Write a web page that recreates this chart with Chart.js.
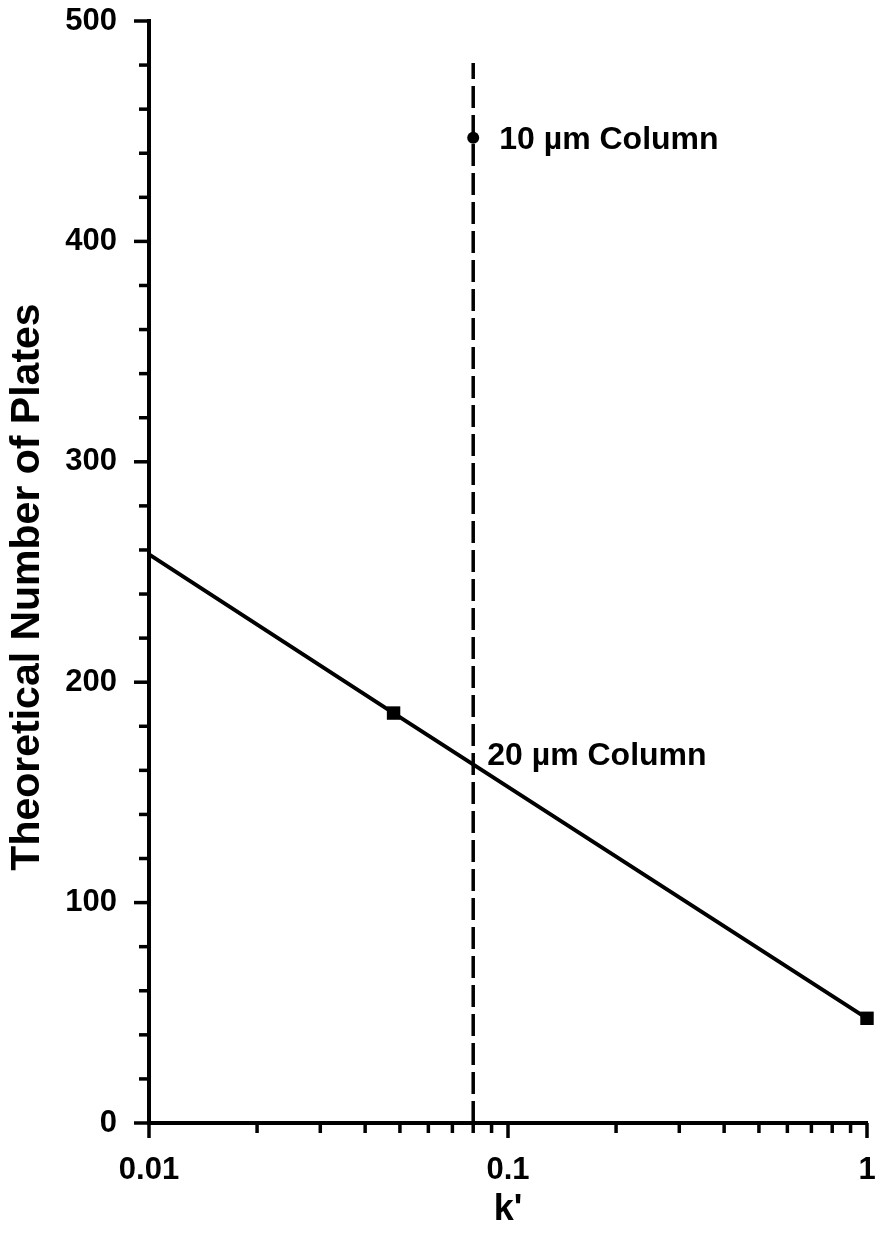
<!DOCTYPE html>
<html><head><meta charset="utf-8">
<script src="https://cdn.jsdelivr.net/npm/chart.js@4/dist/chart.umd.min.js"></script>
<style>html,body{margin:0;padding:0;background:#fff}#wrap{width:883px;height:1238px}</style>
</head><body><div id="wrap"><canvas id="c" width="883" height="1238"></canvas></div>
<script>
// ---- data ----
const kValues = [0.01, 0.048, 1];
const plates20 = [258, 186, 47.5];
const cutoffK = [0.08, 0.08];
const cutoffPlates = [0, 481];
const point10K = [0.08];
const point10Plates = [447];
const labelTexts = ['10 µm Column', '20 µm Column'];
const labelK = [0.08, 0.08];
const labelPlates = [447, 163];
const xMajorTicks = [0.01, 0.1, 1];
const xTickLabels = ['0.01', '0.1', '1'];
const xMinorTicks = [0.02, 0.03, 0.04, 0.05, 0.06, 0.07, 0.08, 0.09, 0.2, 0.3, 0.4, 0.5, 0.6, 0.7, 0.8, 0.9];
const yMajorTicks = [0, 100, 200, 300, 400, 500];
const yTickLabels = ['0', '100', '200', '300', '400', '500'];
const yMinorTicks = [20, 40, 60, 80, 120, 140, 160, 180, 220, 240, 260, 280, 320, 340, 360, 380, 420, 440, 460, 480];
const xTitle = "k'";
const yTitle = 'Theoretical Number of Plates';

// ---- chart ----
const FONT = 'Arial, "Liberation Sans", Helvetica, sans-serif';
Chart.defaults.font.family = FONT;
Chart.defaults.color = '#000';

const labelOffsets = [[26, 11], [14, 1]];

const decor = {
  id: 'decor',
  afterDraw(chart) {
    const ctx = chart.ctx, xs = chart.scales.x, ys = chart.scales.y, ca = chart.chartArea;
    ctx.save();
    ctx.strokeStyle = '#000';
    ctx.lineWidth = 3.5;
    ctx.lineCap = 'butt';
    const seg = (x1, y1, x2, y2) => { ctx.beginPath(); ctx.moveTo(x1, y1); ctx.lineTo(x2, y2); ctx.stroke(); };
    xMajorTicks.forEach(v => { const p = xs.getPixelForValue(v); seg(p, ca.bottom, p, ca.bottom + 15); });
    xMinorTicks.forEach(v => { const p = xs.getPixelForValue(v); seg(p, ca.bottom, p, ca.bottom + 10); });
    yMajorTicks.forEach(v => { const p = ys.getPixelForValue(v); seg(ca.left - 15, p, ca.left, p); });
    yMinorTicks.forEach(v => { const p = ys.getPixelForValue(v); seg(ca.left - 10, p, ca.left, p); });

    ctx.fillStyle = '#000';
    ctx.font = 'bold 32px ' + FONT;
    ctx.textAlign = 'left';
    ctx.textBaseline = 'alphabetic';
    labelTexts.forEach((t, i) => {
      const px = xs.getPixelForValue(labelK[i]), py = ys.getPixelForValue(labelPlates[i]);
      ctx.fillText(t, px + labelOffsets[i][0], py + labelOffsets[i][1]);
    });

    ctx.font = 'bold 41px ' + FONT;
    ctx.textAlign = 'center';
    ctx.textBaseline = 'middle';
    ctx.translate(28, (ca.top + ca.bottom) / 2 + 15);
    ctx.rotate(-Math.PI / 2);
    ctx.fillText(yTitle, 0, 0);
    ctx.restore();
  }
};

const zeroPad = s => { s.paddingTop = 0; s.paddingBottom = 0; s.paddingLeft = 0; s.paddingRight = 0; };

new Chart(document.getElementById('c'), {
  type: 'scatter',
  data: {
    datasets: [
      {
        data: kValues.map((x, i) => ({ x, y: plates20[i] })),
        showLine: true, borderColor: '#000', borderWidth: 4,
        pointStyle: 'rect', pointRadius: c => (c.dataIndex === 0 ? 0 : 9.5),
        pointBackgroundColor: '#000', pointBorderWidth: 0, clip: false
      },
      {
        data: cutoffK.map((x, i) => ({ x, y: cutoffPlates[i] })),
        showLine: true, borderColor: '#000', borderWidth: 3.5, borderDash: [22, 7],
        pointRadius: 0, clip: false
      },
      {
        data: point10K.map((x, i) => ({ x, y: point10Plates[i] })),
        showLine: false, pointStyle: 'circle', pointRadius: 6,
        pointBackgroundColor: '#000', pointBorderWidth: 0, clip: false
      }
    ]
  },
  options: {
    responsive: false, animation: false, devicePixelRatio: 1,
    layout: { padding: { top: 21, right: 16, left: 0, bottom: 0 } },
    plugins: { legend: { display: false }, tooltip: { enabled: false } },
    scales: {
      x: {
        type: 'logarithmic', min: 0.01, max: 1,
        afterBuildTicks: s => { s.ticks = xMajorTicks.map(v => ({ value: v })); },
        afterFit: s => { s.height = 115; zeroPad(s); },
        ticks: { callback: (v, i) => xTickLabels[i], font: { size: 31, weight: 'bold' }, padding: 29, maxRotation: 0, autoSkip: false, color: '#000' },
        grid: { display: true, drawOnChartArea: false, drawTicks: false },
        border: { display: true, color: '#000', width: 4 },
        title: { display: true, text: xTitle, font: { size: 36, weight: 'bold' }, padding: { top: 0, bottom: 6 }, color: '#000' }
      },
      y: {
        min: 0, max: 500,
        afterBuildTicks: s => { s.ticks = yMajorTicks.map(v => ({ value: v })); },
        afterFit: s => { s.width = 149; zeroPad(s); },
        ticks: { callback: (v, i) => yTickLabels[i], font: { size: 31, weight: 'bold' }, padding: 32, autoSkip: false, color: '#000' },
        grid: { display: true, drawOnChartArea: false, drawTicks: false },
        border: { display: true, color: '#000', width: 4 },
        title: { display: false }
      }
    }
  },
  plugins: [decor]
});
</script>
</body></html>
